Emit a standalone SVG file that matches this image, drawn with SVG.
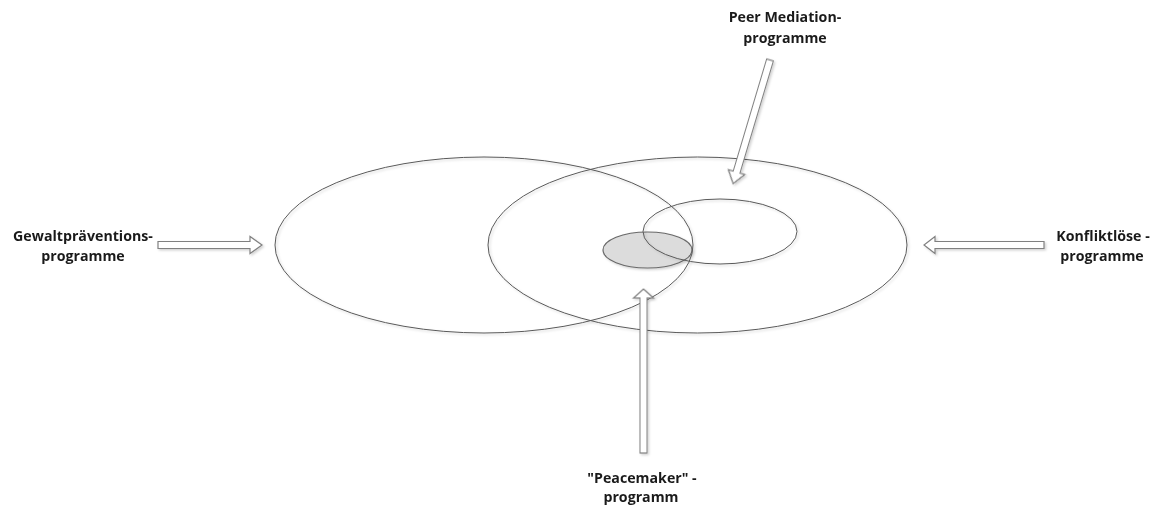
<svg xmlns="http://www.w3.org/2000/svg" width="1154" height="505" viewBox="0 0 1154 505">
<style>
.ell{fill:none;stroke:#5a5a5a;stroke-width:1}
.core{fill:#dcdcdc;stroke:#6a6a6a;stroke-width:1.2}
.arr{fill:#ffffff;stroke:#808080;stroke-width:1.2;stroke-linejoin:miter}
.lbl{font-family:"Open Sans","Liberation Sans",sans-serif;font-weight:bold;font-size:14.2px;fill:#1a1a1a;text-anchor:middle}
</style>
<defs>
<filter id="sh" x="-10%" y="-10%" width="120%" height="120%">
<feDropShadow dx="1.5" dy="1.5" stdDeviation="0.8" flood-color="#000" flood-opacity="0.18"/>
</filter>
</defs>
<g id="core-ellipse" filter="url(#sh)"><ellipse class="core" cx="647.5" cy="250" rx="44.5" ry="18"/></g>
<g id="gewalt-ellipse" filter="url(#sh)"><ellipse class="ell" cx="484" cy="245" rx="209" ry="88"/></g>
<g id="konflikt-ellipse" filter="url(#sh)"><ellipse class="ell" cx="697.5" cy="245" rx="209.5" ry="88"/></g>
<g id="peer-ellipse" filter="url(#sh)"><ellipse class="ell" cx="720" cy="231.5" rx="77" ry="32.5"/></g>
<g id="connectors" filter="url(#sh)">
<polygon class="arr" transform="translate(158,245)" points="0,-3.5 92,-3.5 92,-8.5 104,0 92,8.5 92,3.5 0,3.5"/>
<polygon class="arr" transform="translate(1044,245) rotate(180)" points="0,-3.5 109,-3.5 109,-8.5 120,0 109,8.5 109,3.5 0,3.5"/>
<polygon class="arr" transform="translate(770,60) rotate(106.6)" points="0,-3.5 117,-3.5 117,-8.5 129,0 117,8.5 117,3.5 0,3.5"/>
<polygon class="arr" transform="translate(643.5,453) rotate(-90)" points="0,-3.5 155,-3.5 155,-10 164,0 155,10 155,3.5 0,3.5"/>
</g>
<g id="label-gewalt"><text class="lbl" x="83" y="241">Gewaltpräventions-</text><text class="lbl" x="83" y="261">programme</text></g>
<g id="label-konflikt"><text class="lbl" x="1103" y="241">Konfliktlöse -</text><text class="lbl" x="1102" y="261">programme</text></g>
<g id="label-peer"><text class="lbl" x="785" y="22">Peer Mediation-</text><text class="lbl" x="785" y="43">programme</text></g>
<g id="label-peacemaker"><text class="lbl" x="642" y="483">"Peacemaker" -</text><text class="lbl" x="641" y="502">programm</text></g>
</svg>
